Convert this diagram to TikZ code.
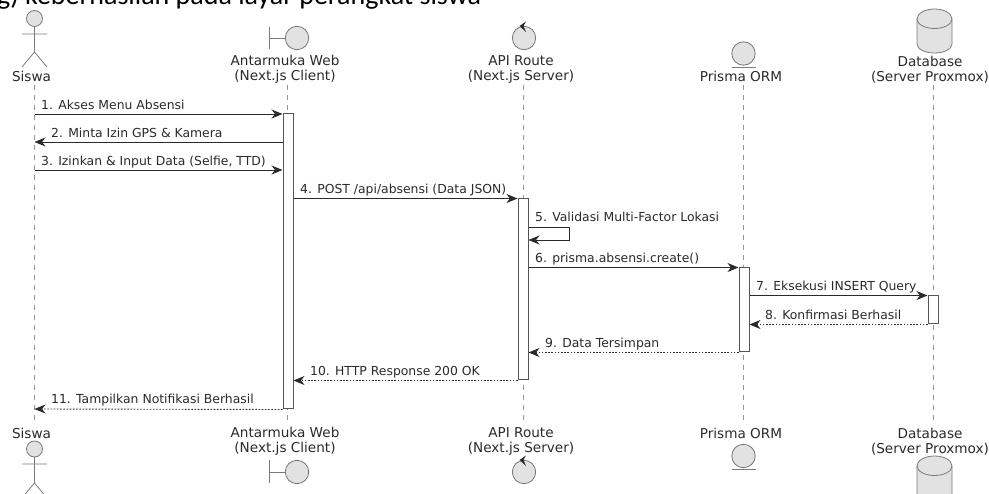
\documentclass[tikz,border=0pt]{standalone}
\usepackage{fontspec}
\setmainfont{DejaVu Sans}
\newfontfamily\capfont{Carlito}
\definecolor{headfill}{HTML}{E2E2E2}
\definecolor{headline}{HTML}{7A7A7A}
\definecolor{msgline}{HTML}{2A2A2A}
\usetikzlibrary{arrows.meta}
\tikzset{
    lifeline/.style={draw=headline!80,dash pattern=on 5pt off 5pt,line width=0.7pt},
    headshape/.style={draw=headline,fill=headfill,line width=0.8pt},
    headline/.style={draw=headline,line width=0.8pt},
    activebar/.style={draw=msgline!80,fill=white,line width=1pt,minimum width=10pt,inner sep=0pt},
    headlabel/.style={font=\fontsize{13.6pt}{15pt}\selectfont,text=msgline,align=center,inner sep=0pt},
    msglabel/.style={font=\fontsize{12.4pt}{14pt}\selectfont,text=msgline,anchor=base west,inner sep=0pt},
    callmsg/.style={draw=msgline,line width=0.9pt,-{Stealth[length=11pt,width=9pt,inset=3.5pt]}},
    backmsg/.style={draw=msgline,line width=0.9pt,dash pattern=on 1.6pt off 1.6pt,-{Stealth[length=11pt,width=9pt,inset=3.5pt]}},
}
\begin{document}
\begin{tikzpicture}[x=1pt,y=-1pt]
    \useasboundingbox (0,0) rectangle (989,494);
    \clip (0,0) rectangle (989,494);

    % caption left over at the top edge
    \node[font=\capfont\fontsize{28pt}{28pt}\selectfont,anchor=base west,inner sep=0pt] (caption) at (-3,5) {g) keberhasilan pada layar perangkat siswa};

    % lifelines
    \coordinate (sTop) at (34.5,85);
    \coordinate (sBot) at (34.5,425);
    \coordinate (wTop) at (287.5,85);
    \coordinate (wBot) at (287.5,425);
    \coordinate (aTop) at (523,85);
    \coordinate (aBot) at (523,425);
    \coordinate (pTop) at (743,85);
    \coordinate (pBot) at (743,425);
    \coordinate (dTop) at (933,85);
    \coordinate (dBot) at (933,425);
    \draw[lifeline] (sTop) -- (sBot);
    \draw[lifeline] (wTop) -- (wBot);
    \draw[lifeline] (aTop) -- (aBot);
    \draw[lifeline] (pTop) -- (pBot);
    \draw[lifeline] (dTop) -- (dBot);

    % activation bars
    \node[activebar,minimum height=295pt] (webBar) at (288,261.5) {};
    \node[activebar,minimum height=181pt] (apiBar) at (523,289.5) {};
    \node[activebar,minimum height=84pt] (ormBar) at (744,310) {};
    \node[activebar,minimum height=28pt] (dbBar) at (933,310) {};

    % labels of the heads
    \node[headlabel] (sLabelTop) at (31.5,76) {Siswa};
    \node[headlabel] (wLabelTop) at (285,69.5) {Antarmuka Web\\(Next.js Client)};
    \node[headlabel] (aLabelTop) at (521,69.5) {API Route\\(Next.js Server)};
    \node[headlabel] (pLabelTop) at (741,76) {Prisma ORM};
    \node[headlabel] (dLabelTop) at (930,69.5) {Database\\(Server Proxmox)};
    \node[headlabel] (sLabelBot) at (31.5,433) {Siswa};
    \node[headlabel] (wLabelBot) at (285,441.5) {Antarmuka Web\\(Next.js Client)};
    \node[headlabel] (aLabelBot) at (521,441.5) {API Route\\(Next.js Server)};
    \node[headlabel] (pLabelBot) at (741,433) {Prisma ORM};
    \node[headlabel] (dLabelBot) at (930,441.5) {Database\\(Server Proxmox)};

    % actor
    \draw[headshape] (34.5,18.5) circle (8);
    \draw[headline] (34.5,26.5) -- (34.5,52) (22,34) -- (47,34) (22,67) -- (34.5,52) -- (47,67);
    \draw[headshape] (34.5,449) circle (8);
    \draw[headline] (34.5,457) -- (34.5,483) (22,464) -- (47,464) (22,498) -- (34.5,483) -- (47,498);

    % boundary
    \draw[headline] (269,27) -- (269,49) (269,38) -- (285,38);
    \draw[headshape] (297,38) circle (11.7);
    \draw[headline] (269,460) -- (269,483) (269,472) -- (285,472);
    \draw[headshape] (297,472) circle (11.7);

    % control
    \draw[headshape] (524,38) circle (11.7);
    \fill[msgline] (519.5,26) -- (526,21.5) -- (523.5,26) -- (526,32) -- cycle;
    \draw[headshape] (524,472) circle (11.7);
    \fill[msgline] (519.5,460) -- (526,455.5) -- (523.5,460) -- (526,466) -- cycle;

    % entity
    \draw[headshape] (743.5,53.5) circle (11.7);
    \draw[headline] (732,67) -- (755.5,67);
    \draw[headshape] (743.5,456) circle (11.7);
    \draw[headline] (732,469.5) -- (755.5,469.5);

    % database
    \draw[headshape] (917,19) arc[start angle=180,end angle=360,x radius=17.5,y radius=10] -- (952,44) arc[start angle=0,end angle=180,x radius=17.5,y radius=9] -- cycle;
    \draw[headline] (917,19) arc[start angle=180,end angle=0,x radius=17.5,y radius=9.5];
    \draw[headshape] (917,466) arc[start angle=180,end angle=360,x radius=17.5,y radius=10] -- (952,500) -- (917,500) -- cycle;
    \draw[headline] (917,466) arc[start angle=180,end angle=0,x radius=17.5,y radius=9.5];

    % messages
    \coordinate (m1) at (34.5,114);
    \coordinate (m2) at (34.5,142);
    \coordinate (m3) at (34.5,170);
    \coordinate (m11) at (34.5,409);
    \coordinate (m5a) at (569,227);
    \coordinate (m5b) at (569,240);
    \draw[callmsg] (m1) -- (m1 -| webBar.west);
    \draw[callmsg] (m2 -| webBar.west) -- (m2);
    \draw[callmsg] (m3) -- (m3 -| webBar.west);
    \draw[callmsg] (webBar.east |- apiBar.north) -- (apiBar.north west);
    \draw[callmsg] (m5a -| apiBar.east) -- (m5a) -- (m5b) -- (m5b -| apiBar.east);
    \draw[callmsg] (apiBar.east |- ormBar.north) -- (ormBar.north west);
    \draw[callmsg] (ormBar.east |- dbBar.north) -- (dbBar.north west);
    \draw[backmsg] (dbBar.south west) -- (ormBar.east |- dbBar.south);
    \draw[backmsg] (ormBar.south west) -- (apiBar.east |- ormBar.south);
    \draw[backmsg] (apiBar.south west) -- (webBar.east |- apiBar.south);
    \draw[backmsg] (webBar.south west) -- (m11);

    \node[msglabel] (t1) at (41,110) {1. Akses Menu Absensi};
    \node[msglabel] (t2) at (51,138) {2. Minta Izin GPS \& Kamera};
    \node[msglabel] (t3) at (41,166) {3. Izinkan \& Input Data (Selfie, TTD)};
    \node[msglabel] (t4) at (300,194) {4. POST /api/absensi (Data JSON)};
    \node[msglabel] (t5) at (535,222) {5. Validasi Multi-Factor Lokasi};
    \node[msglabel] (t6) at (535,263) {6. prisma.absensi.create()};
    \node[msglabel] (t7) at (756,291) {7. Eksekusi INSERT Query};
    \node[msglabel] (t8) at (765,320) {8. Konfirmasi Berhasil};
    \node[msglabel] (t9) at (545,348) {9. Data Tersimpan};
    \node[msglabel] (t10) at (310,376) {10. HTTP Response 200 OK};
    \node[msglabel] (t11) at (51,404) {11. Tampilkan Notifikasi Berhasil};
\end{tikzpicture}
\end{document}
